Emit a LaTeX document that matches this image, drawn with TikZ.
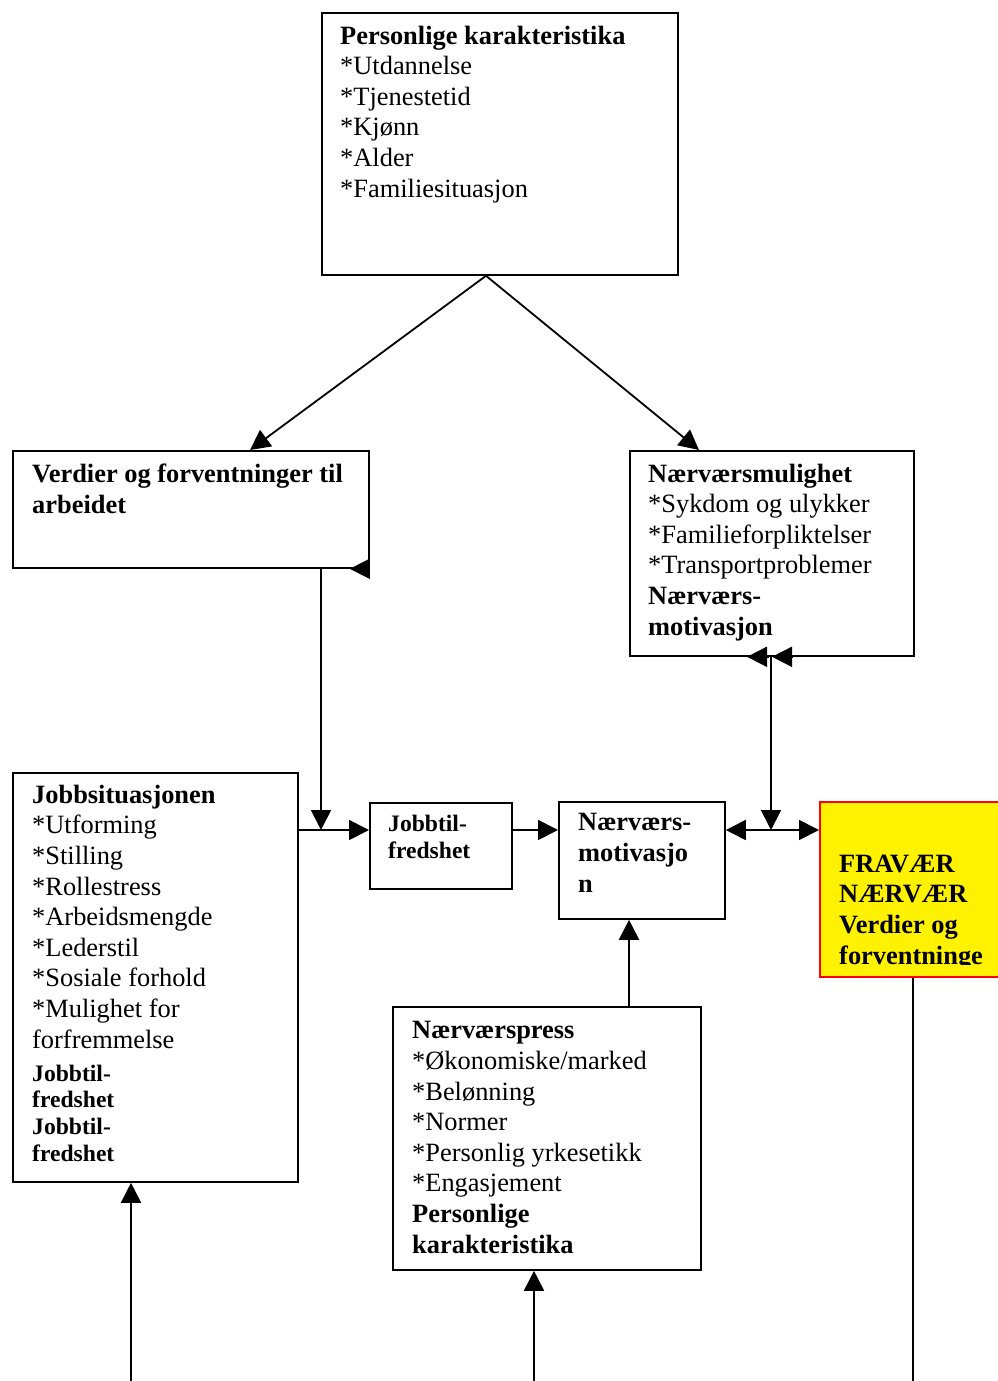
\documentclass[tikz,border=0pt]{standalone}
\usepackage{fontspec}
\setmainfont{Liberation Serif}
\usetikzlibrary{arrows.meta,calc}
\tikzset{
  box/.style={draw, line width=1.8pt, inner sep=0pt, anchor=north west},
  txt/.style={inner sep=0pt, align=left, anchor=base west, font=\fontsize{26.4}{30.6}\selectfont},
  smalltxt/.style={inner sep=0pt, align=left, anchor=base west, font=\fontsize{23.6}{26.6}\selectfont\bfseries},
  conn/.style={line width=1.8pt},
  arr/.style={conn, -{Triangle[length=20pt,width=20pt]}},
  arrtwo/.style={conn, {Triangle[length=20pt,width=20pt]}-{Triangle[length=20pt,width=20pt]}},
}
\begin{document}
\begin{tikzpicture}[x=1pt,y=-1pt]
\useasboundingbox (0,0) rectangle (997,1381);
% boxes
\node[box, minimum width=356pt, minimum height=262pt] (pk) at (321,12) {};
\node[box, minimum width=356pt, minimum height=117pt] (vf) at (12,450) {};
\node[box, minimum width=284pt, minimum height=205pt] (nm) at (629,450) {};
\node[box, minimum width=285pt, minimum height=409pt] (js) at (12,772) {};
\node[box, minimum width=142pt, minimum height=86pt] (jt) at (369,802) {};
\node[box, minimum width=166pt, minimum height=117pt] (nv) at (558,801) {};
\node[box, draw=red, fill=yellow, line width=1.5pt, minimum width=190pt, minimum height=175pt] (fr) at (819,801) {};
\node[box, minimum width=308pt, minimum height=263pt] (np) at (392,1006) {};
% texts (anchor = baseline of the last line)
\node[txt] (pkt) at (340,197) {\textbf{Personlige karakteristika}\\{}*Utdannelse\\{}*Tjenestetid\\{}*Kjønn\\{}*Alder\\{}*Familiesituasjon};
\node[txt] (vft) at (32,513) {\textbf{Verdier og forventninger til}\\\textbf{arbeidet}};
\node[txt] (nmt) at (648,635) {\textbf{Nærværsmulighet}\\{}*Sykdom og ulykker\\{}*Familieforpliktelser\\{}*Transportproblemer\\\textbf{Nærværs-}\\\textbf{motivasjon}};
\node[txt] (jst) at (32,1048) {\textbf{Jobbsituasjonen}\\{}*Utforming\\{}*Stilling\\{}*Rollestress\\{}*Arbeidsmengde\\{}*Lederstil\\{}*Sosiale forhold\\{}*Mulighet for\\forfremmelse};
\node[smalltxt] (jst2) at (32,1161) {Jobbtil-\\fredshet\\Jobbtil-\\fredshet};
\node[smalltxt] (jtt) at (388,858) {Jobbtil-\\fredshet};
\node[txt] (nvt) at (578,892) {\textbf{Nærværs-}\\\textbf{motivasjo}\\\textbf{n}};
\begin{scope}
  \clip (819,801) rectangle (997,964);
  \node[txt] (frt) at (839,964) {\textbf{FRAVÆR}\\\textbf{NÆRVÆR}\\\textbf{Verdier og}\\\textbf{forventninge}};
\end{scope}
\node[txt] (npt) at (412,1253) {\textbf{Nærværspress}\\{}*Økonomiske/marked\\{}*Belønning\\{}*Normer\\{}*Personlig yrkesetikk\\{}*Engasjement\\\textbf{Personlige}\\\textbf{karakteristika}};
% connectors
\coordinate (apex) at ($(pk.south west)+(165,0)$);
\draw[arr] (apex) -- ($(vf.north west)+(238,0)$);
\draw[arr] (apex) -- ($(nm.north west)+(70,0)$);
\draw[arr] (vf.south east) -- ++(-20,0);
\coordinate (j1) at (321,830);
\draw[arr] (vf.south -| j1) -- (j1);
\draw[arr] (js.east |- j1) -- (jt.west |- j1);
\draw[arr] (jt.east |- j1) -- (nv.west |- j1);
\coordinate (j2) at (771,830);
\draw[arr] (nm.south -| j2) -- (j2);
\draw[arr] ($(nm.south -| j2)+(-2,0)$) -- ++(-22,0);
\draw[arr] ($(nm.south -| j2)+(22,0)$) -- ++(-21,0);
\draw[arrtwo] (nv.east |- j2) -- (fr.west |- j2);
\coordinate (p3) at ($(np.north west)+(237,0)$);
\draw[arr] (p3) -- (nv.south -| p3);
\coordinate (b1) at (131,1381);
\draw[arr] (b1) -- (js.south -| b1);
\coordinate (b2) at (534,1381);
\draw[arr] (b2) -- (np.south -| b2);
\coordinate (b3) at (913,1381);
\draw[conn] (fr.south -| b3) -- (b3);
\end{tikzpicture}
\end{document}
